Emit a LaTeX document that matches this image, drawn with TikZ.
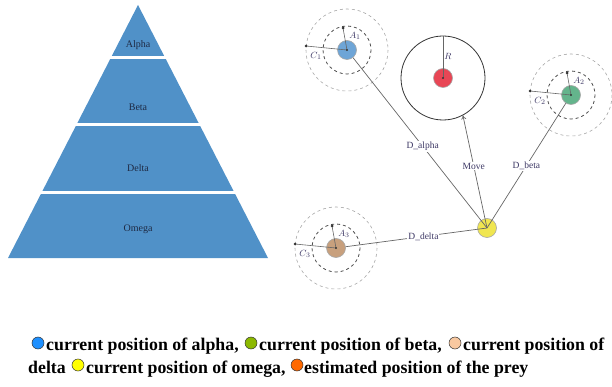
\documentclass[tikz,border=0pt]{standalone}
\usepackage{fontspec}
\setmainfont{Liberation Serif}
\usetikzlibrary{arrows.meta}

\definecolor{pyrblue}{RGB}{80,145,200}
\definecolor{pyrtext}{RGB}{30,42,68}
\definecolor{labc}{RGB}{60,55,100}
\definecolor{alphac}{RGB}{110,165,215}
\definecolor{preyc}{RGB}{232,70,85}
\definecolor{betac}{RGB}{100,180,140}
\definecolor{deltac}{RGB}{200,160,125}
\definecolor{omegac}{RGB}{240,230,80}
\definecolor{keyblue}{RGB}{30,144,255}
\definecolor{keygreen}{RGB}{140,185,0}
\definecolor{keypeach}{RGB}{248,200,160}
\definecolor{keyyellow}{RGB}{255,255,0}
\definecolor{keyorange}{RGB}{255,105,0}

\begin{document}
\begin{tikzpicture}[x=1pt,y=-1pt,
  wolf/.style={circle,draw=gray!70,line width=0.6pt,minimum size=19pt,inner sep=0pt},
  ringin/.style={dashed,draw=gray!60!black,line width=0.8pt},
  ringout/.style={dashed,draw=gray!70,line width=0.6pt},
  link/.style={draw=gray!80!black,line width=0.7pt},
  lbl/.style={font=\fontsize{9.5}{10}\selectfont,text=labc,inner sep=1pt},
  pyrlbl/.style={font=\fontsize{10}{11}\selectfont,text=pyrtext},
  keydot/.style={circle,draw=black!80,line width=0.5pt,minimum width=11pt,minimum height=12pt,inner sep=0pt},
  keytext/.style={font=\fontsize{17.8}{20}\selectfont\bfseries,anchor=base west,inner sep=0pt}]
	\useasboundingbox (0,0) rectangle (612,387);
	% pyramid
	\fill[pyrblue] (138,5) -- (268,258) -- (8,258) -- cycle;
	\draw[white,line width=2.5pt] (90,57.5) -- (186,57.5);
	\draw[white,line width=2.5pt] (60,124.5) -- (216,124.5);
	\draw[white,line width=2.5pt] (25,192.5) -- (251,192.5);
	\node[pyrlbl] (lalpha) at (138,45) {Alpha};
	\node[pyrlbl] (lbeta) at (138,107) {Beta};
	\node[pyrlbl] (ldelta) at (138,168) {Delta};
	\node[pyrlbl] (lomega) at (138,229) {Omega};
	% prey and search range
	\node[circle,draw=gray!40!black,line width=0.8pt,minimum size=84pt,inner sep=0pt] (range) at (443,78) {};
	\node[wolf,fill=preyc] (prey) at (range.center) {};
	\draw[link] (prey.center) -- node[lbl,right,pos=0.5] (rlbl) {$R$} (range.north);
	% wolves
	\node[wolf,fill=alphac] (alpha) at (347,50) {};
	\node[wolf,fill=betac] (beta) at (571,95) {};
	\node[wolf,fill=deltac] (delta) at (336,248) {};
	\node[wolf,fill=omegac] (omega) at (487,228) {};
	\foreach \w/\i in {alpha/1,beta/2,delta/3}{
		\draw[ringin] (\w) circle [radius=24];
		\draw[ringout] (\w) circle [radius=41];
		\draw[link,line width=0.6pt] (\w.center) -- ++(-4,-22) coordinate (\w-a);
		\draw[link,line width=0.6pt] (\w.center) -- ++(-41,-4) coordinate (\w-c);
		\fill[black!80] (\w-a) circle [radius=1.5];
		\fill[black!80] (\w-c) circle [radius=1.5];
		\fill[black!80] (\w) circle [radius=1.2];
		\node[lbl] (\w-al) at ([shift={(8,-14)}]\w.center) {$A_{\i}$};
		\node[lbl] (\w-cl) at ([shift={(-31,6)}]\w.center) {$C_{\i}$};
	}
	\fill[black!80] (prey) circle [radius=1.2];
	% distances and move
	\draw[link] (alpha) -- node[lbl,fill=white,pos=0.52] (dalpha) {D\_alpha} (omega.center);
	\draw[link] (beta) -- node[lbl,fill=white,pos=0.5] (dbeta) {D\_beta} (omega.center);
	\draw[link] (delta) -- node[lbl,fill=white,pos=0.55] (ddelta) {D\_delta} (omega.center);
	\draw[link,-{To[length=4pt,width=5pt]}] (omega.center) -- node[lbl,fill=white,pos=0.55] (move) {Move} (range.-62);
	% legend
	\node[keydot,fill=keyblue] (k1) at (38,343) {};
	\node[keytext] (t1) at (46,350) {current position of alpha,};
	\node[keydot,fill=keygreen] (k2) at (251,343) {};
	\node[keytext] (t2) at (259,350) {current position of beta,};
	\node[keydot,fill=keypeach] (k3) at (455,343) {};
	\node[keytext] (t3) at (463,350) {current position of};
	\node[keytext] (t4) at (28,373) {delta};
	\node[keydot,fill=keyyellow] (k4) at (78,365) {};
	\node[keytext] (t5) at (86,373) {current position of omega,};
	\node[keydot,fill=keyorange] (k5) at (297,365) {};
	\node[keytext] (t6) at (304,373) {estimated position of the prey};
\end{tikzpicture}
\end{document}
